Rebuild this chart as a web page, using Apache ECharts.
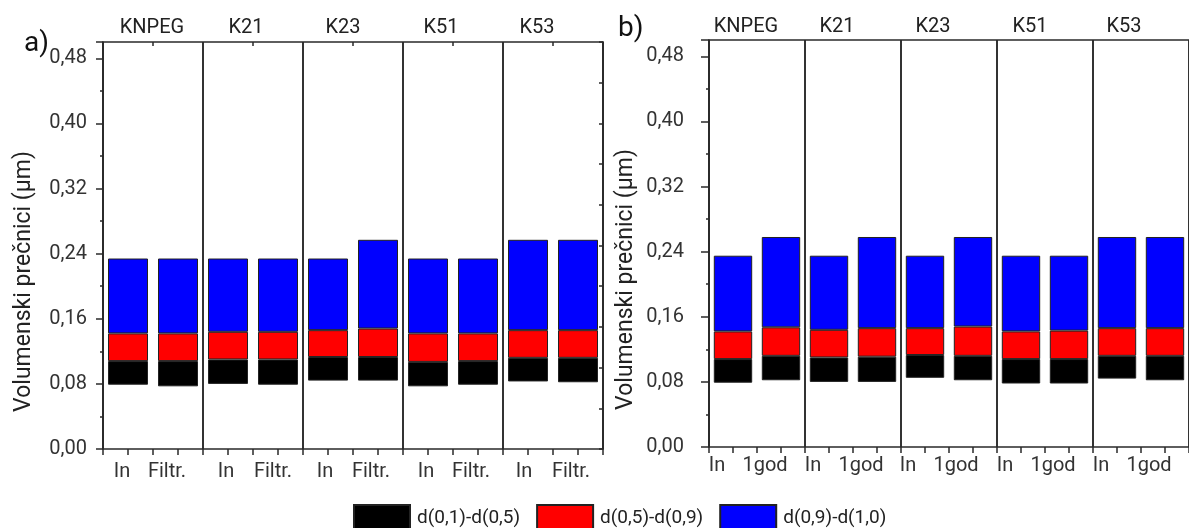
<!DOCTYPE html>
<html>
<head>
<meta charset="utf-8">
<script src="https://cdn.jsdelivr.net/npm/echarts@6/dist/echarts.min.js"></script>
<style>
html,body{margin:0;padding:0;background:#fff;}
#chart{width:1189px;height:528px;}
</style>
</head>
<body>
<div id="chart"></div>
<script>
// ---- data ----
const groups = ['KNPEG', 'K21', 'K23', 'K51', 'K53'];
const catsA = ['In', 'Filtr.', 'In', 'Filtr.', 'In', 'Filtr.', 'In', 'Filtr.', 'In', 'Filtr.'];
const catsB = ['In', '1god', 'In', '1god', 'In', '1god', 'In', '1god', 'In', '1god'];
const seriesNames = ['d(0,1)-d(0,5)', 'd(0,5)-d(0,9)', 'd(0,9)-d(1,0)'];
const yTicks = [0, 0.08, 0.16, 0.24, 0.32, 0.40, 0.48];

// panel a) : d(0,1), d(0,5), d(0,9), d(1,0)
const aD01 = [0.079, 0.077, 0.080, 0.079, 0.084, 0.084, 0.077, 0.079, 0.083, 0.082];
const aD05 = [0.108, 0.108, 0.110, 0.110, 0.113, 0.113, 0.107, 0.108, 0.112, 0.112];
const aD09 = [0.142, 0.142, 0.144, 0.144, 0.146, 0.148, 0.142, 0.142, 0.146, 0.146];
const aD10 = [0.234, 0.234, 0.234, 0.234, 0.234, 0.257, 0.234, 0.234, 0.257, 0.257];

// panel b)
const bD01 = [0.079, 0.082, 0.080, 0.080, 0.085, 0.082, 0.078, 0.078, 0.084, 0.082];
const bD05 = [0.108, 0.112, 0.110, 0.111, 0.113, 0.112, 0.108, 0.108, 0.112, 0.112];
const bD09 = [0.142, 0.147, 0.144, 0.146, 0.146, 0.148, 0.142, 0.143, 0.146, 0.146];
const bD10 = [0.235, 0.258, 0.235, 0.258, 0.235, 0.258, 0.235, 0.235, 0.258, 0.258];

// ---- style config (label shifts, px to the left) ----
const topShiftA = [1, 7, 10, 12, 16];
const topShiftB = [11, 16, 16, 15, 17];
const botShiftA = [6, 11, 2, 5, 3, 7, 2, 7, 4, 7];
const botShiftB = [16, 16, 16, 16, 17, 17, 16, 16, 16, 16];

const FONT = 'Roboto';
const AX = '#2a2a2a';
const colors = ['#000000', '#ff0000', '#0000ff'];

function diff(a, b) { return a.map((v, i) => +(v - b[i]).toFixed(4)); }
function shifted(labels, shifts) {
  return labels.map((l, i) => ({ value: l, textStyle: { padding: [0, 2 * shifts[i], 0, 0] } }));
}
const fmt = v => v.toFixed(2).replace('.', ',');

function yMain(grid, margin, tickLen, gap) {
  return {
    type: 'value', gridIndex: grid, position: 'left', min: 0, max: 0.5, interval: 0.08,
    name: 'Volumenski prečnici (µm)', nameLocation: 'middle',
    nameGap: gap,
    nameTextStyle: { fontFamily: FONT, fontSize: 23, color: '#222', padding: [0, 72, 0, 0] },
    axisLine: { show: true, lineStyle: { color: AX, width: 1.5 } },
    axisTick: { show: true, inside: false, length: tickLen, lineStyle: { color: AX, width: 1.5 } },
    minorTick: { show: true, splitNumber: 2, length: 3, lineStyle: { color: AX, width: 1.5 } },
    splitLine: { show: false },
    axisLabel: { fontFamily: FONT, fontSize: 20, color: '#333', margin: margin, showMaxLabel: false,
      formatter: v => (yTicks.some(t => Math.abs(t - v) < 1e-9) ? fmt(v) : '') }
  };
}

function stackSeries(prefix, xi, yi, d01, d05, d09, d10) {
  const base = {
    type: 'bar', xAxisIndex: xi, yAxisIndex: yi, stack: prefix, barCategoryGap: '20%',
    data: d01, silent: true, itemStyle: { color: 'transparent', borderWidth: 0 }, name: prefix + 'base'
  };
  const parts = [diff(d05, d01), diff(d09, d05), diff(d10, d09)];
  const s = parts.map((p, k) => ({
    type: 'bar', xAxisIndex: xi, yAxisIndex: yi, stack: prefix, barCategoryGap: '20%',
    name: seriesNames[k], data: p,
    itemStyle: { color: colors[k], borderColor: '#222', borderWidth: 1 }
  }));
  return [base].concat(s);
}

const option = {
  backgroundColor: '#ffffff',
  animation: false,
  textStyle: { fontFamily: FONT },
  title: [
    { text: 'a)', left: 19, top: 25, textStyle: { fontFamily: FONT, fontSize: 28, fontWeight: 'normal', color: '#111' } },
    { text: 'b)', left: 613, top: 10, textStyle: { fontFamily: FONT, fontSize: 28, fontWeight: 'normal', color: '#111' } }
  ],
  legend: {
    data: seriesNames, left: 353, top: 504, padding: 0, itemWidth: 56, itemHeight: 26, itemGap: 16,
    icon: 'rect',
    textStyle: { fontFamily: FONT, fontSize: 19, color: '#222', padding: [0, 0, 0, 2] }
  },
  grid: [
    { left: 103, top: 42, width: 500, height: 407, containLabel: false },
    { left: 709, top: 40, width: 488, height: 407, containLabel: false }
  ],
  xAxis: [
    { type: 'category', gridIndex: 0, position: 'bottom', data: shifted(catsA, botShiftA),
      axisLine: { show: true, lineStyle: { color: AX, width: 1.5 } },
      axisTick: { show: true, alignWithLabel: true, length: 6, lineStyle: { color: AX, width: 1.5 } },
      axisLabel: { fontFamily: FONT, fontSize: 20, color: '#333', margin: 13, interval: 0 },
      splitLine: { show: false } },
    { type: 'category', gridIndex: 0, position: 'bottom', data: catsA,
      axisLine: { show: false },
      axisTick: { show: true, length: 6, lineStyle: { color: AX, width: 1.5 } },
      axisLabel: { show: false }, splitLine: { show: false } },
    { type: 'category', gridIndex: 0, position: 'top', data: shifted(groups, topShiftA),
      axisLine: { show: true, lineStyle: { color: AX, width: 1.5 } },
      axisTick: { show: true, alignWithLabel: true, inside: true, length: 4, lineStyle: { color: AX, width: 1.5 } },
      axisLabel: { fontFamily: FONT, fontSize: 20, color: '#222', margin: 4, interval: 0 },
      splitLine: { show: true, lineStyle: { color: '#333', width: 2 } } },

    { type: 'category', gridIndex: 1, position: 'bottom', data: shifted(catsB, botShiftB),
      axisLine: { show: true, lineStyle: { color: AX, width: 1.5 } },
      axisTick: { show: true, alignWithLabel: true, length: 6, lineStyle: { color: AX, width: 1.5 } },
      axisLabel: { fontFamily: FONT, fontSize: 20, color: '#333', margin: 9, interval: 0 },
      splitLine: { show: false } },
    { type: 'category', gridIndex: 1, position: 'bottom', data: catsB,
      axisLine: { show: false },
      axisTick: { show: true, length: 6, lineStyle: { color: AX, width: 1.5 } },
      axisLabel: { show: false }, splitLine: { show: false } },
    { type: 'category', gridIndex: 1, position: 'top', data: shifted(groups, topShiftB),
      axisLine: { show: true, lineStyle: { color: AX, width: 1.5 } },
      axisTick: { show: false },
      axisLabel: { fontFamily: FONT, fontSize: 20, color: '#222', margin: 3, interval: 0 },
      splitLine: { show: true, lineStyle: { color: '#333', width: 2 } } }
  ],
  yAxis: [
    yMain(0, 16, 7, 67),
    { type: 'value', gridIndex: 0, position: 'right', min: 0, max: 0.5, interval: 0.05,
      axisLine: { show: true, lineStyle: { color: AX, width: 1.5 } },
      axisTick: { show: true, inside: true, length: 4, lineStyle: { color: AX, width: 1.5 } },
      axisLabel: { show: false }, splitLine: { show: false } },
    yMain(1, 25, 8, 71)
  ],
  series: [].concat(
    stackSeries('a', 0, 0, aD01, aD05, aD09, aD10),
    stackSeries('b', 3, 2, bD01, bD05, bD09, bD10)
  )
};

const chart = echarts.init(document.getElementById('chart'), null, { renderer: 'canvas' });
chart.setOption(option);
</script>
</body>
</html>
